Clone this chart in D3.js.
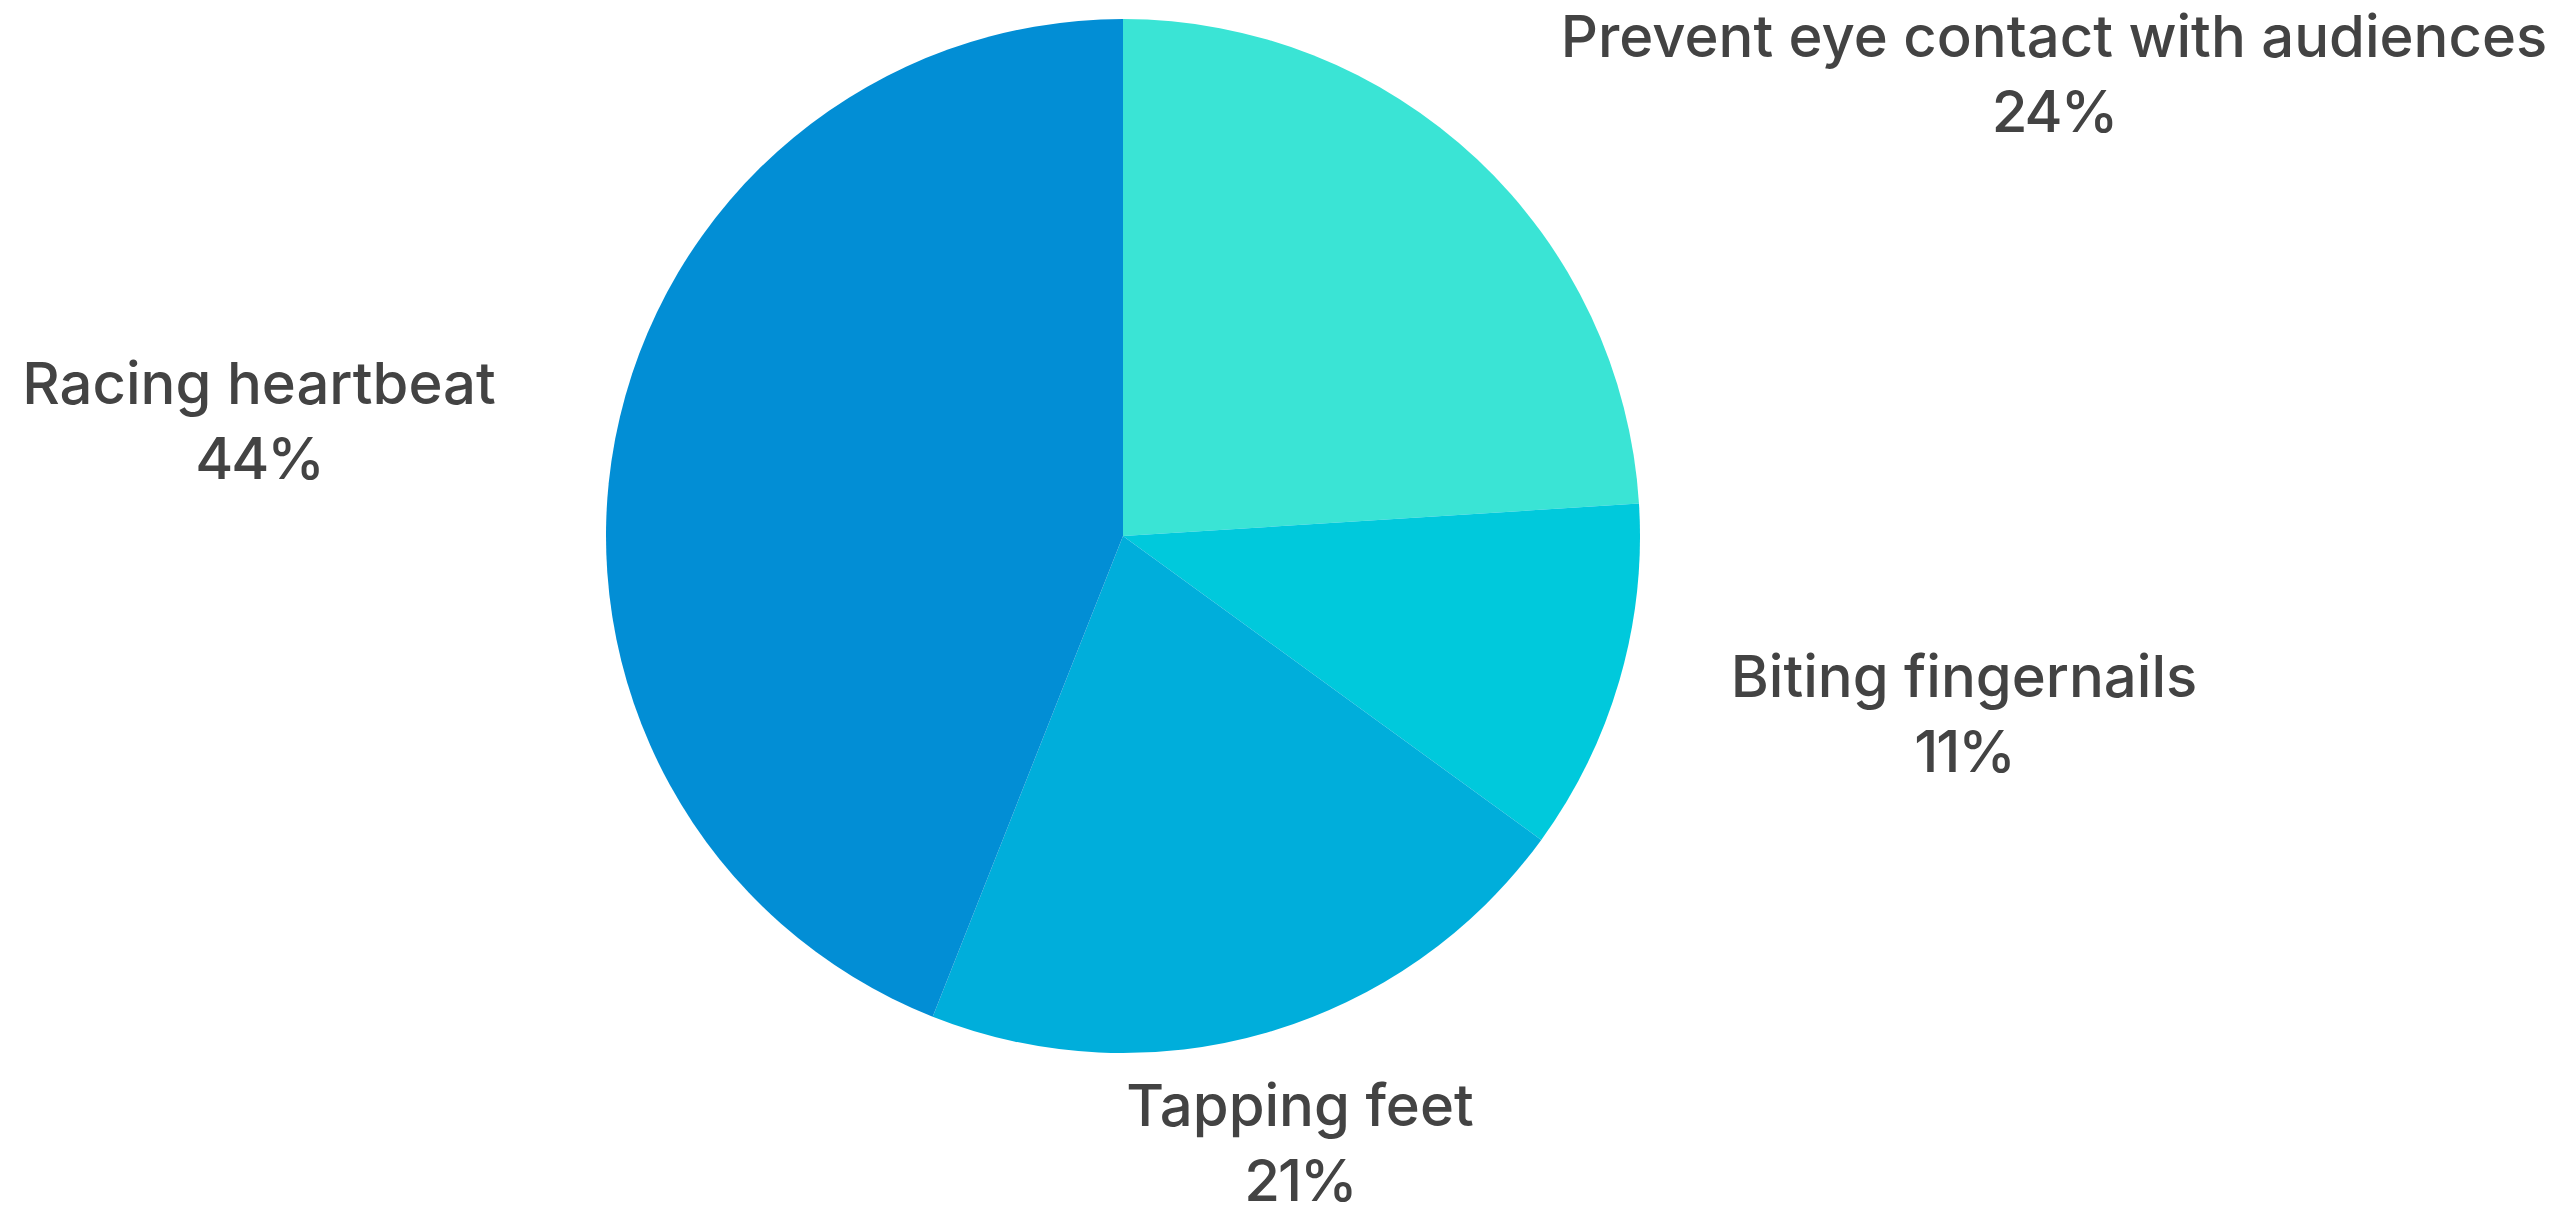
<!DOCTYPE html>
<html>
<head>
<meta charset="utf-8">
<script src="https://cdn.jsdelivr.net/npm/d3@7"></script>
<style>
  html, body { margin: 0; padding: 0; background: #ffffff; }
  svg { display: block; }
</style>
</head>
<body>
<script>
// Nervous habits when speaking in public (share of respondents)
const categories = [
  "Prevent eye contact with audiences",
  "Biting fingernails",
  "Tapping feet",
  "Racing heartbeat"
];
const values = [24, 11, 21, 44];
const colors = ["#3AE4D5", "#00C9DC", "#00AEDB", "#028ED5"];

const W = 2567, H = 1214;
const cx = 1123, cy = 536, R = 517;

// Label anchor points (centre of the two-line label, first baseline)
const labelLayout = [
  { x: 2054, y: 57 },
  { x: 1964, y: 697 },
  { x: 1300, y: 1126 },
  { x: 259,  y: 404 }
];
const lineGap = 75;

const svg = d3.select("body").append("svg")
  .attr("width", W).attr("height", H);

const pie = d3.pie().sort(null).value(d => d)(values);
const arc = d3.arc().innerRadius(0).outerRadius(R);

const g = svg.append("g").attr("transform", `translate(${cx},${cy})`);
g.selectAll("path")
  .data(pie)
  .join("path")
  .attr("d", arc)
  .attr("fill", (d, i) => colors[i]);

const fmt = v => `${v}%`;
const labels = svg.append("g")
  .attr("font-family", "Inter, 'Noto Sans', sans-serif")
  .attr("font-size", 58)
  .attr("font-weight", 500)
  .attr("fill", "#434343")
  .attr("text-anchor", "middle");

categories.forEach((name, i) => {
  const p = labelLayout[i];
  labels.append("text")
    .attr("x", p.x).attr("y", p.y)
    .text(name);
  labels.append("text")
    .attr("x", p.x).attr("y", p.y + lineGap)
    .attr("letter-spacing", -2)
    .text(fmt(values[i]));
});
</script>
</body>
</html>
